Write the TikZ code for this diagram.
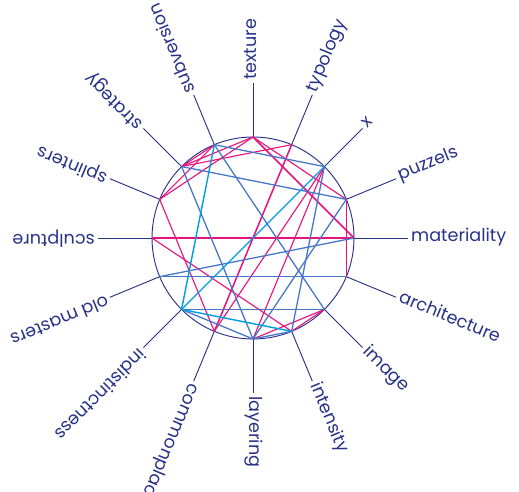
\documentclass[tikz,border=0pt]{standalone}
\usepackage{fontspec}
\setmainfont{Poppins}
\usepackage{tikz}
\usetikzlibrary{calc}
\definecolor{inknavy}{RGB}{40,50,135}
\definecolor{chordpink}{RGB}{232,18,124}
\definecolor{chordcyan}{RGB}{0,158,224}
\definecolor{chordblue}{RGB}{70,118,200}

\begin{document}
\begin{tikzpicture}[x=0.03cm, y=0.03cm,
    spoke/.style={inknavy, line width=0.8pt},
    word/.style={text=inknavy, font=\fontsize{15}{18}\selectfont, anchor=mid west, inner sep=0pt},
    pinkline/.style={chordpink, line width=0.95pt},
    boldpink/.style={chordpink, line width=1.3pt},
    blueline/.style={chordblue, line width=1.1pt},
    cyanline/.style={chordcyan, line width=1.2pt}]
    \useasboundingbox (-253,-254) rectangle (266,238);

    % Ring
    \draw[inknavy, line width=0.8pt] (0,0) circle [radius=101];

    % Spokes and words
    \foreach \n/\a/\t in {mat/0/materiality, puz/22.5/puzzels, x/45/x,
        typ/67.5/typology, tex/90/texture, sub/112.5/subversion,
        str/135/strategy, spl/157.5/splinters, scu/180/sculpture,
        old/202.5/old masters, ind/225/indistinctness, com/247.5/commonplace,
        lay/270/layering, int/292.5/intensity, ima/315/image,
        arc/337.5/architecture}{
        \coordinate (\n) at (\a:101);
        \coordinate (\n-end) at (\a:155);
        \draw[spoke] (\n) -- (\n-end);
        \node[word, rotate=\a] (\n-word) at (\a:158) {\t};
    }

    % Pink chords
    \foreach \p/\q in {tex/puz, puz/arc, str/tex, str/typ, sub/str, sub/spl,
        spl/tex, spl/com, scu/int, lay/ima, int/ima, x/com, x/lay}
        \draw[pinkline] (\p) -- (\q);
    \foreach \p/\q in {scu/mat, tex/mat, typ/com}
        \draw[boldpink] (\p) -- (\q);

    % Blue chords
    \foreach \p/\q in {sub/x, str/puz, sub/ima, str/lay, old/mat, old/arc,
        ind/ima, ind/lay, puz/lay, x/int, lay/int}
        \draw[blueline] (\p) -- (\q);

    % Cyan chords
    \foreach \p/\q in {ind/x, ind/sub, ind/int}
        \draw[cyanline] (\p) -- (\q);
\end{tikzpicture}
\end{document}
